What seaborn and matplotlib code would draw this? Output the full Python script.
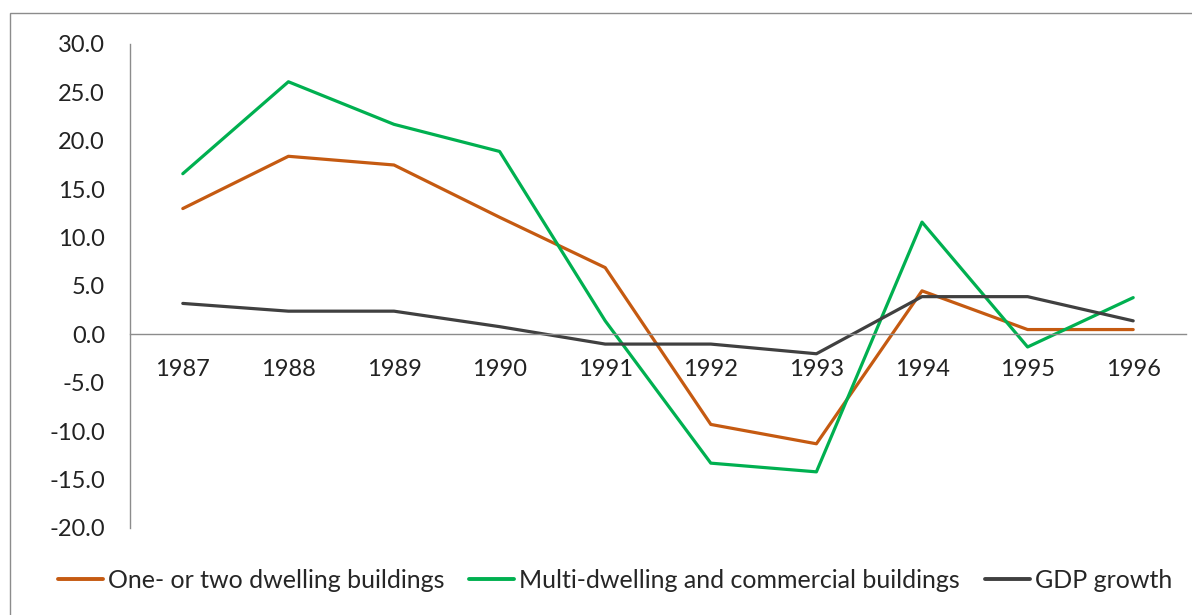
import pandas as pd
import numpy as np
import matplotlib
matplotlib.use('Agg')
import matplotlib.pyplot as plt
import seaborn as sns
from matplotlib.patches import Rectangle

years = [1987, 1988, 1989, 1990, 1991, 1992, 1993, 1994, 1995, 1996]
one_two_dwelling = [13.0, 18.4, 17.5, 12.1, 6.9, -9.3, -11.3, 4.5, 0.5, 0.5]
multi_commercial = [16.6, 26.1, 21.7, 18.9, 1.4, -13.3, -14.2, 11.6, -1.3, 3.8]
gdp_growth = [3.2, 2.4, 2.4, 0.8, -1.0, -1.0, -2.0, 3.9, 3.9, 1.4]

series_names = ["One- or two dwelling buildings",
                "Multi-dwelling and commercial buildings",
                "GDP growth"]
colors = ["#C55A11", "#00B050", "#404040"]
y_ticks = [30, 25, 20, 15, 10, 5, 0, -5, -10, -15, -20]

df = pd.DataFrame({
    "year": years * 3,
    "value": one_two_dwelling + multi_commercial + gdp_growth,
    "series": sum([[n] * len(years) for n in series_names], []),
})

sns.set_style("white")
plt.rcParams['font.family'] = ['Lato', 'DejaVu Sans']

fig = plt.figure(figsize=(11.92, 6.15), dpi=100)
ax = fig.add_axes([130 / 1192, 1 - 528 / 615, (1186 - 130) / 1192, (528 - 44) / 615])

sns.lineplot(data=df, x="year", y="value", hue="series", palette=colors,
             hue_order=series_names, linewidth=2.3, ax=ax, legend=False)

ax.set_xlim(years[0] - 0.5, years[-1] + 0.5)
ax.set_ylim(-20, 30)
ax.set_yticks(y_ticks)
ax.set_yticklabels([f"{v:.1f}" for v in y_ticks], fontsize=17, color="#222222")
ax.set_xlabel("")
ax.set_ylabel("")

# x axis crosses at zero, ticks between categories
for s in ["top", "right"]:
    ax.spines[s].set_visible(False)
ax.spines["bottom"].set_position(("data", 0))
for s in ["left", "bottom"]:
    ax.spines[s].set_color("#8c8c8c")
    ax.spines[s].set_linewidth(1.0)

ax.set_xticks(np.arange(years[0] - 0.5, years[-1] + 1, 1.0))
ax.set_xticklabels([])
ax.set_xticks(years, minor=True)
ax.set_xticklabels([str(y) for y in years], minor=True, fontsize=17, color="#222222")
ax.tick_params(axis="x", which="major", direction="out", length=7, color="#8c8c8c", width=1)
ax.tick_params(axis="x", which="minor", length=0, pad=18)
ax.tick_params(axis="y", direction="out", length=6, color="#8c8c8c", width=1, pad=12)

handles = [plt.Line2D([], [], color=c, lw=2.8) for c in colors]
fig.legend(handles, series_names, loc="center right", bbox_to_anchor=(1172 / 1192, 1 - 580 / 615),
           ncol=3, frameon=False, fontsize=18, handlelength=1.8, handletextpad=0.2,
           columnspacing=1.0, borderaxespad=0, borderpad=0)

# chart area border
fig.patches.append(Rectangle((10 / 1192, -0.05), 1.2, 1 - 13 / 615 + 0.05,
                             transform=fig.transFigure, fill=False,
                             edgecolor="#8c8c8c", linewidth=1.0))

fig.savefig("out.png", dpi=100)
